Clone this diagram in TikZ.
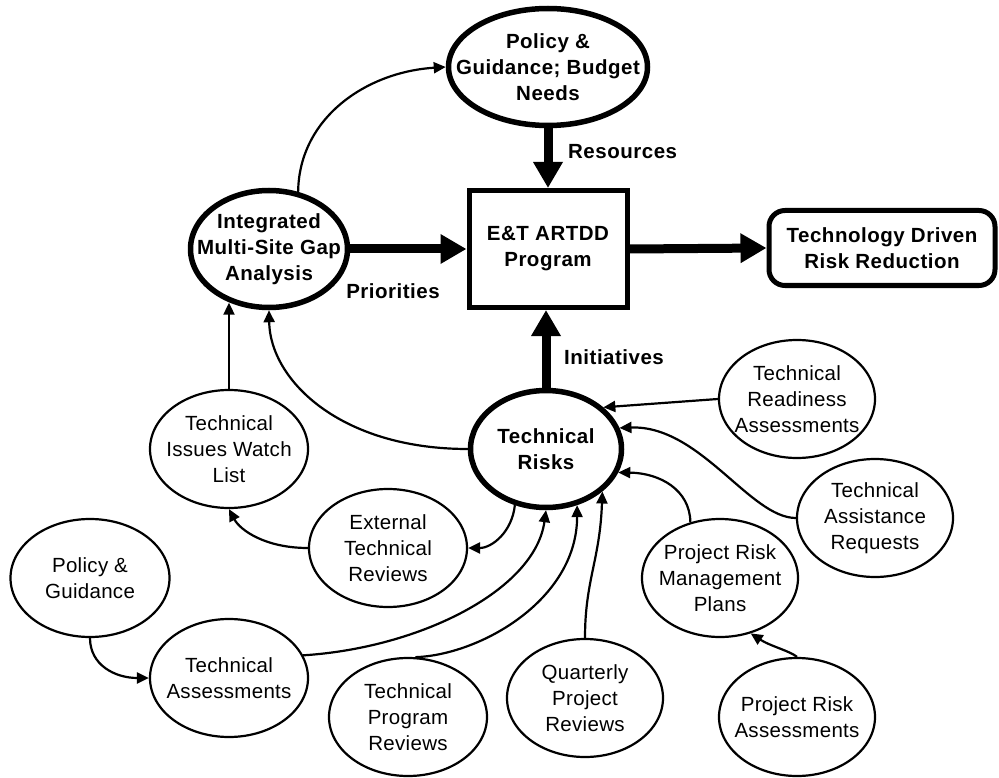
\documentclass[tikz,border=0pt]{standalone}
\usepackage{fontspec}
\setmainfont{Liberation Sans}
\usetikzlibrary{shapes.geometric,arrows.meta}
\tikzset{
  txt/.style={font=\fontsize{20.5}{26}\selectfont\addfontfeature{LetterSpace=1.5}, align=center, inner sep=0pt},
  btxt/.style={font=\fontsize{20.5}{26}\selectfont\bfseries\addfontfeature{LetterSpace=2.5}, align=center, inner sep=0pt},
  thinell/.style={txt, ellipse, draw, line width=2.2pt, inner sep=-40pt, minimum width=156pt, minimum height=118pt},
  thickell/.style={btxt, ellipse, draw, line width=5.5pt, inner sep=-40pt},
  thinarrow/.style={line width=2.2pt, -{Triangle[length=12pt,width=11pt]}},
  thickarrow/.style={line width=9pt, -{Triangle[length=26pt,width=28pt]}},
  lbl/.style={btxt}
}
\begin{document}
\begin{tikzpicture}[x=1pt,y=-1pt]
\useasboundingbox (0,0) rectangle (999,778);

% main program and outcome
\node[thickell, minimum width=199pt, minimum height=117pt] (pb) at (548,67) {Policy \&\\Guidance; Budget\\Needs};
\node[btxt, draw, line width=5pt, minimum width=158pt, minimum height=117pt] (prog) at (548,249) {E\&T ARTDD\\Program};
\node[btxt, draw, line width=5pt, rounded corners=16pt, minimum width=226pt, minimum height=75pt] (trr) at (882,248) {Technology Driven\\Risk Reduction};
\node[thickell, minimum width=157pt, minimum height=117pt] (gap) at (269,249) {Integrated\\Multi-Site Gap\\Analysis};
\node[thickell, minimum width=151pt, minimum height=117pt] (risks) at (546,449) {Technical\\Risks};

% inputs
\node[thinell] (tra) at (797,399) {Technical\\Readiness\\Assessments};
\node[thinell] (tar) at (875,518) {Technical\\Assistance\\Requests};
\node[thinell] (prmp) at (720,578) {Project Risk\\Management\\Plans};
\node[thinell] (qpr) at (585,698) {Quarterly\\Project\\Reviews};
\node[thinell] (pra) at (797,717) {Project Risk\\Assessments};
\node[thinell, minimum width=158pt] (tiwl) at (229,449) {Technical\\Issues Watch\\List};
\node[thinell, minimum width=158pt] (etr) at (388,548) {External\\Technical\\Reviews};
\node[thinell, minimum width=159pt] (pg) at (90,578) {Policy \&\\Guidance};
\node[thinell, minimum width=158pt] (ta) at (229,678) {Technical\\Assessments};
\node[thinell, minimum width=158pt] (tpr) at (408,717) {Technical\\Program\\Reviews};

% heavy flows
\draw[thickarrow] (pb.south) -- (prog.north);
\draw[thickarrow] (gap.east) -- (prog.west);
\draw[thickarrow] (prog.east) -- (trr.west);
\draw[thickarrow] (risks.north) -- (risks.north |- prog.south);
\node[lbl, anchor=west] (res) at (568,152) {Resources};
\node[lbl] (pri) at (393,291) {Priorities};
\node[lbl, anchor=west] (ini) at (564,357) {Initiatives};

% light flows
\draw[thinarrow] (gap.63) .. controls (299,118) and (366,72) .. (pb.west);
\draw[thinarrow] (tiwl.north) -- (tiwl.north |- gap.234);
\draw[thinarrow] (risks.west) .. controls (340,449) and (270,380) .. (gap.south);
\draw[thinarrow] (etr.west) .. controls (265,548) and (240,530) .. (tiwl.south);
\draw[thinarrow] (risks.241) .. controls (512,532) and (492,548) .. (etr.east);
\draw[thinarrow] (ta.17) .. controls (420,648) and (535,590) .. (risks.south);
\draw[thinarrow] (tpr.83) .. controls (480,655) and (577,600) .. (risks.299);
\draw[thinarrow] (qpr.north) .. controls (585,580) and (600,560) .. (risks.323);
\draw[thinarrow] (prmp.118) .. controls (690,490) and (660,473) .. (risks.342);
\draw[thinarrow] (tar.west) .. controls (750,518) and (700,425) .. (risks.16);
\draw[thinarrow] (tra.west) -- (risks.36);
\draw[thinarrow] (pg.south) .. controls (90,665) and (115,678) .. (ta.west);
\draw[thinarrow] (pra.north) .. controls (790,651) and (770,646) .. (prmp.299);
\end{tikzpicture}
\end{document}
